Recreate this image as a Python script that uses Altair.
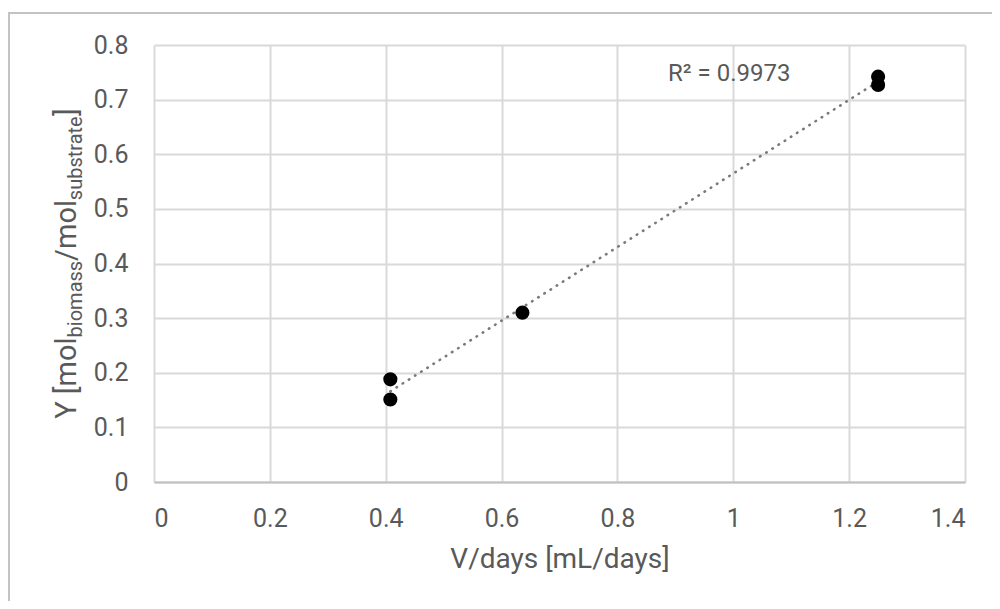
import altair as alt
import pandas as pd

# ---- data ----
x_vals = [0.408, 0.408, 0.636, 1.25, 1.25]
y_vals = [0.188, 0.151, 0.310, 0.742, 0.727]
x_ticks = [0, 0.2, 0.4, 0.6, 0.8, 1.0, 1.2, 1.4]
y_ticks = [0, 0.1, 0.2, 0.3, 0.4, 0.5, 0.6, 0.7, 0.8]
r2_label = "R\u00b2 = 0.9973"
x_title = "V/days [mL/days]"
y_title_parts = ["Y [mol", "biomass", "/mol", "substrate", "]"]
y_title_sub = [False, True, False, True, False]

# ---- layout / style ----
W, H = 811, 437
FONT = "Roboto"
TXT = "#595959"
MAIN_FS, SUB_FS = 29, 20

df = pd.DataFrame({"x": x_vals, "y": y_vals})
one = pd.DataFrame({"a": [0]})

xs = alt.Scale(domain=[0, 1.4], nice=False)
ys = alt.Scale(domain=[0, 0.8], nice=False)

xax = alt.Axis(values=x_ticks, format="~g", title=x_title, grid=True,
               ticks=False, tickSize=0, labelPadding=24, titlePadding=14,
               domain=True, domainColor="#bfbfbf", domainWidth=2)
yax = alt.Axis(values=y_ticks, format="~g", title=None, grid=True,
               ticks=False, tickSize=0, labelPadding=26, domain=False)

base = alt.Chart(df)

frame = alt.Chart(one).mark_rect(fill="transparent", stroke="#c3c3c3",
                                 strokeWidth=2).encode(
    x=alt.value(-145), x2=alt.value(W + 200),
    y=alt.value(-32), y2=alt.value(H + 200))

trend = base.transform_regression("x", "y").mark_line(
    color="#7a7a7a", strokeWidth=2.6, strokeDash=[0.5, 6.8], strokeCap="round"
).encode(x=alt.X("x:Q", scale=xs, axis=xax), y=alt.Y("y:Q", scale=ys, axis=yax))

pts = base.mark_circle(size=200, color="black", opacity=1).encode(
    x=alt.X("x:Q", scale=xs, axis=xax), y=alt.Y("y:Q", scale=ys, axis=yax))

r2 = alt.Chart(one).mark_text(align="left", baseline="middle", font=FONT,
                              fontSize=24, color=TXT, text=r2_label).encode(
    x=alt.value(514), y=alt.value(29))

# y title assembled from pieces (main text + subscripts), rotated
widths = {" ": .248, "Y": .606, "[": .266, "]": .266, "m": .872, "o": .57,
          "l": .243, "/": .412, "b": .561, "i": .243, "a": .544, "s": .516,
          "u": .551, "t": .326, "r": .338, "e": .53}
lens = []
for t, s in zip(y_title_parts, y_title_sub):
    fs = SUB_FS if s else MAIN_FS
    lens.append(sum(widths.get(c, .55) for c in t) * fs)
total = sum(lens)
pos = H / 2 + total / 2
title_layers = []
for t, s, L in zip(y_title_parts, y_title_sub, lens):
    fs = SUB_FS if s else MAIN_FS
    title_layers.append(
        alt.Chart(one).mark_text(align="left", baseline="alphabetic", angle=270,
                                 font=FONT, fontSize=fs, color=TXT, text=t).encode(
            x=alt.value(-78 + (6 if s else 0)), y=alt.value(pos)))
    pos -= L

chart = alt.layer(frame, trend, pts, r2, *title_layers).properties(
    width=W, height=H,
    background="white",
    autosize=alt.AutoSizeParams(type="none"),
    padding={"left": 146, "top": 37, "right": 27, "bottom": 119},
).configure_view(stroke="transparent").configure_axis(
    labelFont=FONT, labelFontSize=25, labelColor=TXT,
    titleFont=FONT, titleFontSize=28, titleColor=TXT, titleFontWeight="normal",
    gridColor="#d9d9d9", gridWidth=2,
)

chart.save("out.html", embed_options={"renderer": "svg", "actions": False})
